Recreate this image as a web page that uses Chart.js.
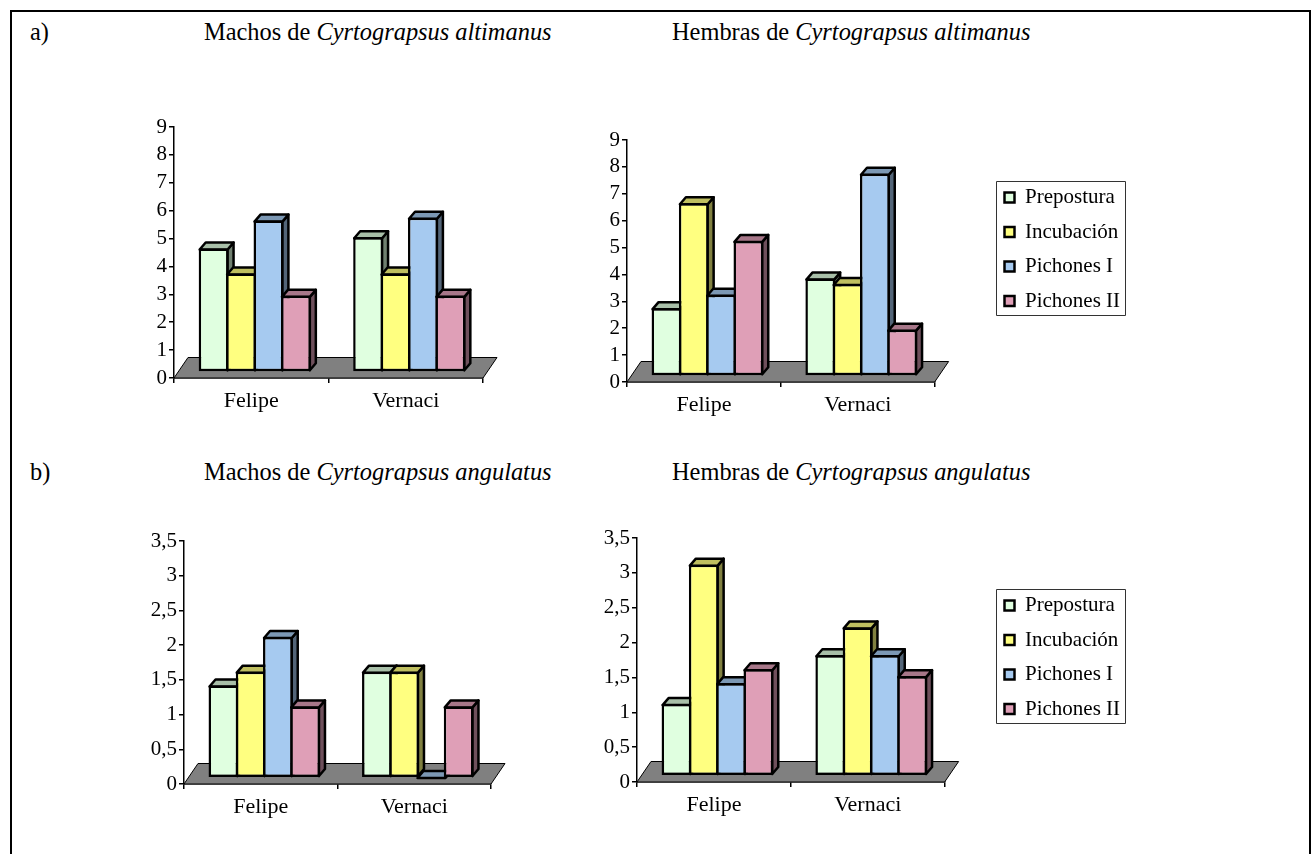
<!DOCTYPE html>
<html>
<head>
<meta charset="utf-8">
<title>Cyrtograpsus</title>
<script src="https://cdn.jsdelivr.net/npm/chart.js@4"></script>
<style>
body { margin: 0; background: #fff; font-family: "Liberation Serif", serif; color: #000; }
#frame { position: absolute; left: 9.5px; top: 10px; width: 1297px; height: 860px; border: 2.5px solid #000; }
#page { position: absolute; left: 0; top: 0; width: 1314px; height: 854px; overflow: hidden; }
.t { position: absolute; font-size: 24.4px; line-height: 24px; white-space: nowrap; }
canvas { position: absolute; }
#c1 { left: 120px; top: 110px; }
#c2 { left: 575px; top: 120px; }
#c3 { left: 130px; top: 520px; }
#c4 { left: 585px; top: 520px; }
</style>
</head>
<body>
<div id="page">
  <div id="frame"></div>
  <div class="t" style="left:30px;top:20px">a)</div>
  <div class="t" style="left:204px;top:20px">Machos de <i>Cyrtograpsus altimanus</i></div>
  <div class="t" style="left:672px;top:20px">Hembras de <i>Cyrtograpsus altimanus</i></div>
  <div class="t" style="left:30px;top:460px">b)</div>
  <div class="t" style="left:204px;top:460px">Machos de <i>Cyrtograpsus angulatus</i></div>
  <div class="t" style="left:672px;top:460px">Hembras de <i>Cyrtograpsus angulatus</i></div>
  <canvas id="c1" width="400" height="310"></canvas>
  <canvas id="c2" width="560" height="300"></canvas>
  <canvas id="c3" width="380" height="310"></canvas>
  <canvas id="c4" width="560" height="310"></canvas>
</div>
<script>
const categories = ['Felipe', 'Vernaci'];
const seriesNames = ['Prepostura', 'Incubación', 'Pichones I', 'Pichones II'];

// [Felipe, Vernaci] for each stage
const machosAltimanus = [[4.6, 5], [3.7, 3.7], [5.6, 5.7], [2.9, 2.9]];
const hembrasAltimanus = [[2.7, 3.8], [6.6, 3.6], [3.2, 7.7], [5.2, 1.9]];
const machosAngulatus = [[1.4, 1.6], [1.6, 1.6], [2.1, 0], [1.1, 1.1]];
const hembrasAngulatus = [[1.1, 1.8], [3.1, 2.2], [1.4, 1.8], [1.6, 1.5]];

const frontColors = ['#E0FFE0', '#FFFF80', '#A6CAF0', '#DF9FB7'];
const topColors = ['#A8BFA8', '#BFBF60', '#7C98B4', '#A77789'];
const sideColors = ['#708070', '#808040', '#536578', '#6F505C'];

const FONT = 'Liberation Serif';
const BAR_DX = 6, BAR_DY = 7;     // depth of one bar
const FLOOR_DX = 14, FLOOR_DY = 20.5;
const LINE = 2.5;

function poly(ctx, pts, fill, stroke, width) {
    ctx.beginPath();
    pts.forEach((p, i) => i ? ctx.lineTo(p[0], p[1]) : ctx.moveTo(p[0], p[1]));
    ctx.closePath();
    ctx.fillStyle = fill;
    ctx.fill();
    ctx.lineWidth = width;
    ctx.strokeStyle = stroke;
    ctx.lineJoin = 'round';
    ctx.stroke();
}

// fake 3D look: floor, then side and top faces behind each library-drawn bar
const fake3d = {
    id: 'fake3d',
    afterDatasetsUpdate(chart, args, opts) {
        // `order` makes the left bar draw first but also flips the group, so mirror it back
        chart.getSortedVisibleDatasetMetas().forEach(meta => {
            meta.data.forEach((bar, j) => {
                bar.x = 2 * chart.scales.x.getPixelForValue(j) - bar.x + opts.shift;
                // outline sits centred on the value, not inside it
                bar.y = bar.y > bar.base ? bar.base : bar.y - LINE / 2;
            });
        });
    },
    beforeDatasetsDraw(chart) {
        const x = chart.scales.x, y0 = chart.scales.y.getPixelForValue(0);
        poly(chart.ctx, [
            [x.left, y0], [x.left + FLOOR_DX, y0 - FLOOR_DY],
            [x.right + FLOOR_DX, y0 - FLOOR_DY], [x.right, y0]
        ], '#808080', '#000', 1);
    },
    beforeDatasetDraw(chart, args) {
        const ctx = chart.ctx, i = args.index;
        args.meta.data.forEach(bar => {
            const half = bar.width / 2, l = bar.x - half + 1, r = bar.x + half - 1;
            const t = bar.y + 1, b = bar.base - 1;
            poly(ctx, [[r, t], [r + BAR_DX, t - BAR_DY], [r + BAR_DX, b - BAR_DY], [r, b]], sideColors[i], '#000', LINE);
            poly(ctx, [[l, t], [l + BAR_DX, t - BAR_DY], [r + BAR_DX, t - BAR_DY], [r, t]], topColors[i], '#000', LINE);
        });
    },
    beforeDraw(chart, args, opts) {
        if (!opts.frame) return;
        const l = chart.legend;
        l.left = opts.frame[0] - 5;
        l.top = opts.frame[1] - 7.5;
        l.right = l.left + 140;
        l.bottom = l.top + 200;
    },
    afterDraw(chart, args, opts) {
        if (!opts.frame) return;
        const ctx = chart.ctx;
        ctx.lineWidth = 1;
        ctx.strokeStyle = '#333';
        ctx.strokeRect(opts.frame[0] + 0.5, opts.frame[1] + 0.5, 129, 134);
    }
};

function makeChart(id, rows, yMax, yStep, geo) {
    return new Chart(document.getElementById(id), {
        type: 'bar',
        data: {
            labels: categories,
            datasets: rows.map((values, i) => ({
                label: seriesNames[i],
                data: values,
                base: geo.base,
                order: 4 - i,
                backgroundColor: frontColors[i],
                borderColor: '#000',
                borderWidth: LINE,
                borderSkipped: false,
                barPercentage: 1.09,
                categoryPercentage: 0.71
            }))
        },
        plugins: [fake3d],
        options: {
            responsive: false,
            animation: false,
            events: [],
            layout: {
                autoPadding: false,
                padding: { top: geo.top, right: geo.right, left: 0, bottom: 0 }
            },
            scales: {
                x: {
                    afterFit: s => { s.height = geo.xHeight; },
                    border: { color: '#000', width: 1.5 },
                    grid: { drawOnChartArea: false, color: '#000', lineWidth: 1.5, tickLength: 5 },
                    ticks: { color: '#000', font: { family: FONT, size: 22 }, padding: 5, maxRotation: 0 }
                },
                y: {
                    min: 0,
                    max: yMax,
                    afterFit: s => { s.width = geo.yWidth; },
                    border: { color: '#000', width: 1.5 },
                    grid: { drawOnChartArea: false, color: '#000', lineWidth: 1.5, tickLength: 5 },
                    ticks: {
                        stepSize: yStep,
                        autoSkip: false,
                        color: '#000',
                        font: { family: FONT, size: 21 },
                        padding: 2,
                        callback: v => String(v).replace('.', ',')
                    }
                }
            },
            plugins: {
                title: { display: false },
                tooltip: { enabled: false },
                fake3d: { shift: geo.shift, frame: geo.frame },
                legend: {
                    display: !!geo.frame,
                    position: 'right',
                    align: 'start',
                    labels: {
                        boxWidth: 10,
                        boxHeight: 10,
                        padding: 13.5,
                        color: '#000',
                        font: { family: FONT, size: 21 },
                        sort: (a, b) => a.datasetIndex - b.datasetIndex
                    }
                }
            }
        }
    });
}

makeChart('c1', machosAltimanus, 9, 1, { base: 0.24, top: 17, right: 37, yWidth: 54, xHeight: 42, shift: 3.5 });
makeChart('c2', hembrasAltimanus, 9, 1, { base: 0.25, top: 20, right: 80.5, yWidth: 52, xHeight: 38, shift: 3.5, frame: [421, 61] });
makeChart('c3', machosAngulatus, 3.5, 0.5, { base: 0.1, top: 21, right: 19, yWidth: 54, xHeight: 46, shift: 3.5 });
makeChart('c4', hembrasAngulatus, 3.5, 0.5, { base: 0.1, top: 18, right: 80.5, yWidth: 52, xHeight: 48, shift: 3.5, frame: [411, 69] });
</script>
</body>
</html>
